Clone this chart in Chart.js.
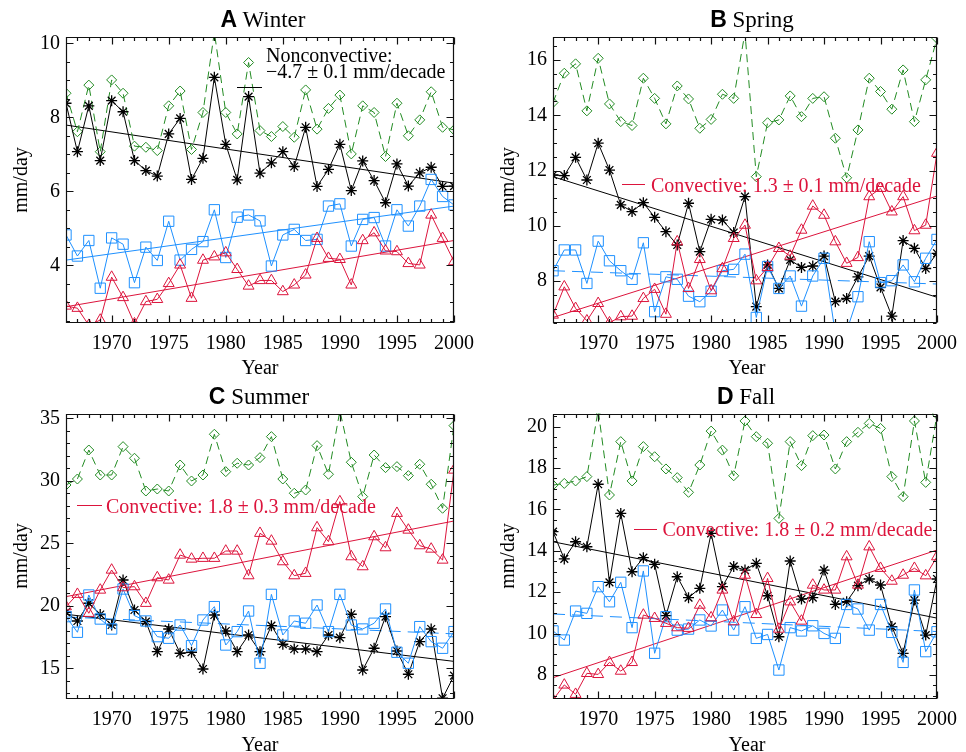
<!DOCTYPE html>
<html><head><meta charset="utf-8">
<script src="https://cdn.jsdelivr.net/npm/chart.js@4.4.1/dist/chart.umd.min.js"></script>
<style>
body{margin:0;background:#fff;width:966px;height:752px;position:relative;overflow:hidden;font-family:'Liberation Serif','Times New Roman',serif;}
.panel{position:absolute;width:483px;height:376px;}
.t{position:absolute;white-space:nowrap;font-size:20px;line-height:20px;color:#000;}
.title{font-size:23px;line-height:23px;text-align:center;width:300px;}
.title b{font-family:'Liberation Sans',Arial,sans-serif;font-weight:bold;}
.seg{position:absolute;height:1px;}
.ylab{transform:rotate(-90deg);width:100px;text-align:center;}
.yr{width:100px;text-align:center;}
.red{color:#dc143c;}
</style></head>
<body>
<div class="panel" style="left:0;top:0"><canvas id="cA" width="483" height="376"></canvas></div>
<div class="panel" style="left:483px;top:0"><canvas id="cB" width="483" height="376"></canvas></div>
<div class="panel" style="left:0;top:376px"><canvas id="cC" width="483" height="376"></canvas></div>
<div class="panel" style="left:483px;top:376px"><canvas id="cD" width="483" height="376"></canvas></div>

<div class="t title" style="left:113px;top:8px"><b>A</b> Winter</div>
<div class="t title" style="left:602px;top:8px"><b>B</b> Spring</div>
<div class="t title" style="left:109px;top:385px"><b>C</b> Summer</div>
<div class="t title" style="left:596px;top:385px"><b>D</b> Fall</div>

<div class="t ylab" style="left:-30px;top:170px">mm/day</div>
<div class="t ylab" style="left:457px;top:170px">mm/day</div>
<div class="t ylab" style="left:-30px;top:546px">mm/day</div>
<div class="t ylab" style="left:457px;top:546px">mm/day</div>

<div class="t yr" style="left:210px;top:357px">Year</div>
<div class="t yr" style="left:697px;top:357px">Year</div>
<div class="t yr" style="left:210px;top:734px">Year</div>
<div class="t yr" style="left:697px;top:734px">Year</div>

<div class="seg" style="left:237px;top:87px;width:25px;background:#000"></div>
<div class="t" style="left:266px;top:45px">Nonconvective:</div>
<div class="t" style="left:266px;top:60.5px">−4.7 ± 0.1 mm/decade</div>

<div class="seg" style="left:622px;top:183.5px;width:23px;background:#dc143c"></div>
<div class="t red" style="left:651px;top:174.75px">Convective: 1.3 ± 0.1 mm/decade</div>

<div class="seg" style="left:77px;top:504.5px;width:25px;background:#dc143c"></div>
<div class="t red" style="left:106px;top:496px">Convective: 1.8 ± 0.3 mm/decade</div>

<div class="seg" style="left:634px;top:528.5px;width:23px;background:#dc143c"></div>
<div class="t red" style="left:662.5px;top:518.75px">Convective: 1.8 ± 0.2 mm/decade</div>

<script>
// ---------------- data ----------------
const years = [1966,1967,1968,1969,1970,1971,1972,1973,1974,1975,1976,1977,1978,1979,1980,1981,1982,1983,1984,1985,1986,1987,1988,1989,1990,1991,1992,1993,1994,1995,1996,1997,1998,1999,2000];
const xTickLabels = [1970,1975,1980,1985,1990,1995,2000];

// A Winter
const winterTotal  = [8.65,7.61,8.87,7.07,9.01,8.65,7.22,7.19,7.10,8.31,8.71,7.13,8.13,10.3,8.13,7.55,9.48,7.64,7.48,7.75,7.46,8.74,7.68,8.24,8.60,7.01,8.31,8.13,6.94,8.38,7.50,7.93,8.69,7.73,7.66];
const winterNonconv= [8.38,7.07,8.31,6.83,8.45,8.15,6.83,6.56,6.41,7.55,7.97,6.32,6.89,9.08,7.27,6.31,8.56,6.49,6.77,7.07,6.67,7.73,6.13,6.59,7.27,6.02,6.82,6.29,5.69,6.74,6.14,6.50,6.65,6.13,6.14];
const winterOther  = [4.82,4.25,4.67,3.38,4.74,4.57,3.53,4.49,4.13,5.19,4.14,4.43,4.64,5.50,4.21,5.30,5.36,5.20,3.98,4.82,4.97,4.67,4.70,5.60,5.66,4.52,5.24,5.29,4.52,5.50,5.06,5.60,6.32,5.86,5.63];
const winterConv   = [2.90,2.84,2.38,2.52,3.68,3.13,2.42,3.02,3.08,3.51,4.01,3.11,4.14,4.23,4.34,3.89,3.44,3.59,3.59,3.29,3.47,3.74,4.73,4.19,4.16,3.47,4.67,4.88,4.39,4.37,4.05,4.01,5.36,4.73,4.10];
const winterTrendNonconv = [7.79, 6.22];
const winterTrendOther   = [4.14, 5.60];
const winterTrendConv    = [2.88, 4.67];
const winterYTicks = [4,6,8,10];

// B Spring
const springTotal  = [14.46,15.52,15.86,14.16,16.06,14.41,13.77,13.63,15.34,14.61,13.69,15.06,14.59,13.53,13.85,14.76,14.61,17.0,11.78,13.73,13.83,14.70,13.95,14.61,14.67,13.17,11.74,13.47,15.34,14.86,14.22,15.64,13.77,15.28,16.78];
const springNonconv= [11.84,11.82,12.48,11.66,12.99,12.02,10.76,10.52,10.84,10.31,9.79,9.31,10.82,9.07,10.24,10.21,9.76,11.06,7.08,8.59,7.74,8.77,8.50,8.55,8.91,7.26,7.38,8.16,8.91,7.78,6.74,9.47,9.19,8.46,9.01];
const springOther  = [8.38,9.13,9.13,7.92,9.45,8.74,8.38,8.07,9.39,6.90,8.16,8.07,7.46,7.26,7.64,8.38,8.43,8.98,6.69,8.53,7.74,8.19,7.10,8.19,8.83,6.10,6.20,7.44,9.43,7.95,8.02,8.59,7.98,8.83,9.51];
const springConv   = [6.78,7.80,7.02,6.57,7.20,6.50,6.72,6.74,7.38,7.71,6.81,9.43,7.74,8.79,7.66,8.46,9.55,10.03,8.02,8.50,9.19,8.91,9.85,10.72,10.39,9.43,8.65,8.86,11.06,11.36,10.51,11.06,9.83,10.03,12.63];
const springTrendNonconv = [11.78, 7.42];
const springTrendOther   = [8.38, 7.90];
const springTrendConv    = [6.69, 11.08];
const springYTicks = [8,10,12,14,16];

// C Summer
const summerTotal  = [29.66,30.14,32.46,30.46,30.46,32.73,31.80,29.18,29.34,29.18,31.26,29.98,30.46,33.72,30.73,31.40,31.26,31.85,33.53,30.14,29.00,29.26,32.81,30.52,35.6,31.48,28.73,32.06,31.05,31.13,30.41,31.32,29.72,27.80,34.41];
const summerNonconv= [19.48,18.78,20.20,19.30,18.46,22.06,19.66,18.73,16.33,18.14,16.20,16.28,14.94,19.26,17.98,16.33,17.66,16.33,18.41,16.92,16.54,16.54,16.33,17.66,17.45,19.32,14.86,16.60,19.13,16.38,14.52,17.13,18.14,12.60,14.41];
const summerOther  = [19.13,17.88,20.86,18.94,18.14,21.34,19.21,18.78,17.53,17.40,18.46,16.81,18.86,19.93,16.86,17.93,19.58,15.40,20.91,17.66,18.78,18.60,20.06,17.93,20.91,18.46,18.14,18.60,19.74,16.28,15.40,18.33,17.13,16.60,17.93];
const summerConv   = [19.93,20.92,19.40,21.26,22.86,21.45,21.53,20.20,22.25,22.06,24.06,23.74,23.80,23.80,24.38,24.38,22.41,25.80,25.18,23.53,22.41,22.60,26.25,25.13,28.33,23.93,23.13,25.53,24.65,27.40,26.06,24.81,24.54,23.66,30.86];
const summerTrendNonconv = [19.32, 15.55];
const summerTrendOther   = [19.10, 17.75];
const summerTrendConv    = [20.73, 26.78];
const summerYTicks = [15,20,25,30,35];

// D Fall
const fallTotal  = [17.18,17.26,17.38,17.59,20.8,16.70,19.28,17.38,19.04,18.55,17.96,17.54,16.83,18.15,19.79,18.87,17.63,20.28,19.52,19.20,15.57,19.28,18.12,19.57,19.60,17.96,19.28,19.73,20.16,19.92,17.59,16.62,20.28,17.31,20.60];
const fallNonconv= [14.93,13.61,14.44,14.20,17.22,12.48,15.81,12.99,13.67,13.35,10.87,12.75,11.74,12.19,14.85,12.27,13.25,13.07,13.40,11.83,9.85,13.51,11.67,11.74,13.07,11.41,11.54,12.32,12.64,12.35,10.34,9.05,11.62,9.93,12.64];
const fallOther  = [10.13,9.69,11.09,10.98,12.27,11.54,12.48,10.29,13.03,9.05,10.82,10.17,10.22,10.66,10.37,11.14,10.17,11.30,9.77,9.96,8.24,10.29,10.13,10.38,10.01,9.77,11.41,11.19,10.17,11.41,10.06,8.61,12.11,9.13,10.09];
const fallConv   = [6.80,7.52,7.07,8.08,8.03,8.61,8.19,8.61,10.90,10.74,10.50,10.29,10.26,11.38,10.77,12.11,10.58,12.83,10.93,12.67,10.22,11.54,10.61,12.35,12.11,12.11,13.72,12.35,14.20,13.16,12.54,12.83,13.16,12.80,13.72];
const fallTrendNonconv = [14.44, 10.75];
const fallTrendOther   = [10.95, 10.10];
const fallTrendConv    = [7.87, 14.04];
const fallYTicks = [8,10,12,14,16,18,20];

// ---------------- drawing ----------------
const C_GREEN = '#228b22', C_BLACK = '#000000', C_BLUE = '#1e90ff', C_RED = '#dc143c';
const SERIF = "'Liberation Serif','Times New Roman',serif";

function pts(vals){ return vals.map((v,i)=>({x:years[i], y:v})); }
function ends(ab){ return [{x:years[0], y:ab[0]},{x:years[years.length-1], y:ab[1]}]; }
function series(vals, color, style, r, dash, bw){
  return {data: pts(vals), borderColor: color, borderWidth: 1, borderDash: dash || [],
    pointStyle: style, pointRadius: r, pointHoverRadius: r, pointBorderColor: color,
    pointBackgroundColor: 'rgba(0,0,0,0)', pointBorderWidth: bw || 1, tension: 0, fill: false};
}
function trendSet(ab, color, dash){
  return {data: ends(ab), borderColor: color, borderWidth: 1, borderDash: dash || [],
    pointRadius: 0, pointHoverRadius: 0, tension: 0, fill: false};
}

const framePlugin = {
  id: 'frame',
  afterDatasetsDraw(chart){
    const o = chart.options.plugins.frame;
    const {ctx, chartArea: a, scales: {x, y}} = chart;
    const L = Math.round(a.left) + 0.5, R = Math.round(a.right) - 0.5;
    const T = Math.round(a.top) + 0.5, B = Math.round(a.bottom) - 0.5;
    ctx.save();
    ctx.strokeStyle = '#111'; ctx.lineWidth = 1.2; ctx.setLineDash([]);
    ctx.beginPath();
    ctx.rect(L, T, R - L, B - T);
    for (let yr = years[0]; yr <= years[years.length-1]; yr++){
      const px = Math.round(x.getPixelForValue(yr)) + 0.5;
      const len = yr % 5 === 0 ? 7 : 3.5;
      ctx.moveTo(px, B); ctx.lineTo(px, B - len);
      ctx.moveTo(px, T); ctx.lineTo(px, T + len);
    }
    const start = Math.ceil(y.min / o.minor - 1e-9) * o.minor;
    for (let v = start; v <= y.max + 1e-9; v += o.minor){
      const py = Math.round(y.getPixelForValue(v)) + 0.5;
      const q = v / o.major;
      const len = Math.abs(q - Math.round(q)) < 1e-6 ? 7 : 3.5;
      ctx.moveTo(L, py); ctx.lineTo(L + len, py);
      ctx.moveTo(R, py); ctx.lineTo(R - len, py);
    }
    ctx.stroke();
    ctx.restore();
  }
};

function panel(id, cfg){
  const datasets = [
    series(cfg.conv, C_RED, 'triangle', 6.3),
    series(cfg.other, C_BLUE, 'rect', 7.3),
    series(cfg.nonconv, C_BLACK, 'star', 5.5, null, 1.3),
    series(cfg.total, C_GREEN, 'rectRot', 5, [8,5]),
    trendSet(cfg.tConv, C_RED),
    trendSet(cfg.tOther, C_BLUE, cfg.otherDash ? [12,7] : []),
    trendSet(cfg.tNonconv, C_BLACK)
  ];
  new Chart(document.getElementById(id), {
    type: 'line',
    data: {datasets},
    options: {
      responsive: false, animation: false, events: [],
      layout: {padding: cfg.pad},
      plugins: {legend: {display: false}, tooltip: {enabled: false}, title: {display: false},
        frame: {minor: cfg.minor, major: cfg.major}},
      scales: {
        x: {type: 'linear', min: years[0], max: years[years.length-1],
          grid: {display: false, drawTicks: false}, border: {display: false},
          afterBuildTicks: s => { s.ticks = xTickLabels.map(v => ({value: v})); },
          afterFit: s => { s.height = 53; },
          ticks: {padding: 9, autoSkip: false, maxRotation: 0, color: '#000',
            font: {family: SERIF, size: 20}, callback: v => String(v)}},
        y: {type: 'linear', min: cfg.ymin, max: cfg.ymax,
          grid: {display: false, drawTicks: false}, border: {display: false},
          afterBuildTicks: s => { s.ticks = cfg.yticks.map(v => ({value: v})); },
          afterFit: s => { s.width = cfg.yw; },
          ticks: {padding: 6, autoSkip: false, color: '#000',
            font: {family: SERIF, size: 20}, callback: v => String(v)}}
      }
    },
    plugins: [framePlugin]
  });
}

panel('cA', {total: winterTotal, nonconv: winterNonconv, other: winterOther, conv: winterConv,
  tNonconv: winterTrendNonconv, tOther: winterTrendOther, tConv: winterTrendConv, otherDash: false,
  yticks: winterYTicks, ymin: 2.44, ymax: 10.17, minor: 0.5, major: 2, yw: 66,
  pad: {left: 0, top: 37, right: 29, bottom: 0}});
panel('cB', {total: springTotal, nonconv: springNonconv, other: springOther, conv: springConv,
  tNonconv: springTrendNonconv, tOther: springTrendOther, tConv: springTrendConv, otherDash: true,
  yticks: springYTicks, ymin: 6.49, ymax: 16.83, minor: 0.5, major: 2, yw: 70,
  pad: {left: 0, top: 37, right: 24, bottom: 0}});
panel('cC', {total: summerTotal, nonconv: summerNonconv, other: summerOther, conv: summerConv,
  tNonconv: summerTrendNonconv, tOther: summerTrendOther, tConv: summerTrendConv, otherDash: true,
  yticks: summerYTicks, ymin: 12.54, ymax: 35.34, minor: 1, major: 5, yw: 66,
  pad: {left: 0, top: 38, right: 29, bottom: 0}});
panel('cD', {total: fallTotal, nonconv: fallNonconv, other: fallOther, conv: fallConv,
  tNonconv: fallTrendNonconv, tOther: fallTrendOther, tConv: fallTrendConv, otherDash: true,
  yticks: fallYTicks, ymin: 6.84, ymax: 20.64, minor: 0.5, major: 2, yw: 70,
  pad: {left: 0, top: 37.5, right: 24, bottom: 0}});
</script>
</body></html>
